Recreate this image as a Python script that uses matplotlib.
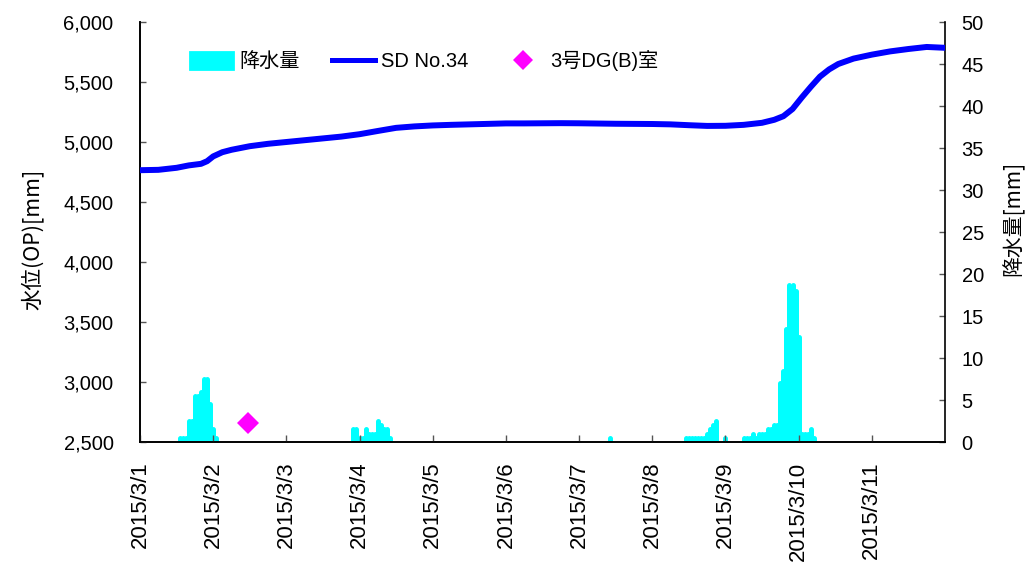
import matplotlib
matplotlib.use('Agg')
import matplotlib.pyplot as plt
from matplotlib.patches import Patch
from matplotlib.lines import Line2D
from matplotlib.font_manager import FontProperties
import matplotlib.ticker as mticker

# ---------------- data ----------------
day_labels = ['2015/3/1', '2015/3/2', '2015/3/3', '2015/3/4', '2015/3/5', '2015/3/6',
              '2015/3/7', '2015/3/8', '2015/3/9', '2015/3/10', '2015/3/11']

# SD No.34 water level (OP mm), hours from 2015/3/1 0:00
level_hours = [0, 6, 12, 16, 20, 22, 24, 27, 30, 36, 42, 48, 54, 60, 66, 72, 78,
               84, 90, 96, 102, 108, 114, 120, 126, 132, 138, 144, 150, 156, 162,
               168, 174, 180, 186, 192, 198, 204, 208, 211, 214, 217, 220, 223, 226,
               229, 234, 240, 246, 252, 258, 264]
level_mm = [4765, 4768, 4785, 4805, 4818, 4840, 4880, 4915, 4935, 4965, 4985, 5000,
            5015, 5030, 5045, 5065, 5092, 5118, 5130, 5138, 5143, 5147, 5151, 5155,
            5155, 5156, 5157, 5156, 5154, 5152, 5151, 5150, 5147, 5140, 5134, 5135,
            5143, 5160, 5185, 5215, 5275, 5370, 5460, 5545, 5605, 5650, 5695, 5728,
            5755, 5775, 5792, 5785]

# hourly rainfall (mm), hours from 2015/3/1 0:00 (non-zero hours only)
rain_hours = [13, 14, 15, 16, 17, 18, 19, 20, 21, 22, 23, 24, 25,
              70, 71, 72, 73, 74, 75, 76, 77, 78, 79, 80, 81, 82,
              154,
              179, 180, 181, 182, 183, 184, 185, 186, 187, 188, 189, 192,
              198, 199, 200, 201, 202, 203, 204, 205, 206, 207, 208, 209,
              210, 211, 212, 213, 214, 215, 216, 217, 218, 219, 220, 221]
rain_mm = [0.5, 0.5, 0.5, 2.5, 2.5, 5.5, 5.5, 6.0, 7.5, 7.5, 4.5, 1.5, 0.5,
           1.5, 1.5, 0.5, 0.5, 1.5, 1.0, 1.0, 1.0, 2.5, 2.0, 1.5, 1.5, 0.5,
           0.5,
           0.5, 0.5, 0.5, 0.5, 0.5, 0.5, 0.5, 1.0, 1.5, 2.0, 2.5, 0.5,
           0.5, 0.5, 0.5, 1.0, 0.5, 1.0, 1.0, 1.0, 1.5, 1.5, 2.0, 2.0,
           7.0, 8.5, 13.5, 18.7, 18.7, 18.0, 12.5, 1.0, 1.0, 1.0, 1.5, 0.5]

# 3号DG(B)室 single observation
dg_hours = [35.5]
dg_level = [2660]

# ---------------- plot ----------------
num_font = 'Liberation Sans'
cjk = ['Liberation Sans', 'Noto Sans CJK JP']

W, H = 1034, 565
fig = plt.figure(figsize=(W / 100, H / 100), dpi=100)
ax = fig.add_axes([140 / W, 123 / H, 805 / W, 420 / H])
ax2 = ax.twinx()

lv_x = [h / 24 for h in level_hours]
rn_x = [h / 24 for h in rain_hours]
dg_x = [h / 24 for h in dg_hours]

for xv, rv in zip(rn_x, rain_mm):
    ax2.plot([xv, xv], [0, rv], color='#00FFFF', linewidth=3.6,
             solid_capstyle='round', zorder=2)
ax.plot(lv_x, level_mm, color='#0000FF', linewidth=4.3, solid_capstyle='round',
        solid_joinstyle='round', zorder=3)
ax.plot(dg_x, dg_level, linestyle='none', marker='D', markersize=11, color='#FF00FF',
        markeredgewidth=0, zorder=4)

ax.set_zorder(ax2.get_zorder() + 1)
ax.patch.set_visible(False)

ax.set_xlim(0, 11)
ax.set_ylim(2500, 6000)
ax2.set_ylim(0, 50)

ax.set_xticks(range(len(day_labels)))
ax.set_xticklabels(day_labels, rotation=90, fontsize=16, family=num_font)
ax.yaxis.set_major_locator(mticker.MultipleLocator(500))
ax.yaxis.set_major_formatter(mticker.FuncFormatter(lambda v, p: f'{int(v):,}'))
ax2.yaxis.set_major_locator(mticker.MultipleLocator(5))

for lab in ax.get_yticklabels():
    lab.set_family(num_font)
ax.tick_params(axis='y', direction='in', length=4, width=1, color='#555555',
               labelsize=14.5, pad=19)
ax.tick_params(axis='x', direction='in', length=5, width=1, color='#555555',
               labelsize=16, pad=14)
ax2.tick_params(axis='y', direction='in', length=4, width=1, color='#555555',
                labelsize=14.5, pad=12)
for lab in ax2.get_yticklabels():
    lab.set_family(num_font)

for a in (ax, ax2):
    a.spines['top'].set_visible(False)
    for s in ('left', 'right', 'bottom'):
        a.spines[s].set_linewidth(1.2)
        a.spines[s].set_color('black')
ax.spines['right'].set_visible(False)

fig.text(32 / W, 1 - 239 / H, '水位(OP)[mm]', rotation=90, ha='center', va='center',
         fontsize=15.5, family='Noto Sans CJK JP')
fig.text(1013 / W, 1 - 218 / H, '降水量[mm]', rotation=90, ha='center', va='center',
         fontsize=15, family='Noto Sans CJK JP')

handles = [
    Patch(facecolor='#00FFFF', edgecolor='#00FFFF', linewidth=2, joinstyle='round'),
    Line2D([], [], color='#0000FF', linewidth=3.6),
    Line2D([], [], linestyle='none', marker='D', markersize=10, color='#FF00FF',
           markeredgewidth=0),
]
labels = ['降水量', 'SD No.34', '3号DG(B)室']
leg = ax.legend(handles, labels, loc='center left',
                bbox_to_anchor=(190 / W, 1 - 61 / H), bbox_transform=fig.transFigure,
                ncol=3, frameon=False, borderpad=0, borderaxespad=0,
                handlelength=2.15, handleheight=0.95, handletextpad=0.3,
                columnspacing=1.6, prop=FontProperties(family=cjk, size=14.5))

fig.savefig('out.png', dpi=100)
